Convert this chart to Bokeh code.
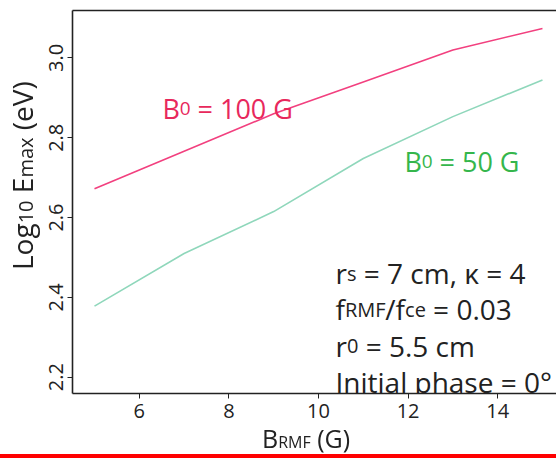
import math
from bokeh.plotting import figure
from bokeh.models import Label, Range1d, FixedTicker, LinearAxis, Div, PrintfTickFormatter
from bokeh.embed import file_html
from bokeh.resources import INLINE

# ---- data ----
b_rmf = [5, 7, 9, 11, 13, 15]
log_emax_100G = [2.672, 2.766, 2.860, 2.940, 3.020, 3.074]
log_emax_50G = [2.378, 2.510, 2.615, 2.748, 2.853, 2.945]
x_ticks = [6, 8, 10, 12, 14]
y_ticks = [2.2, 2.4, 2.6, 2.8, 3.0]

FONT = "Open Sans"
RED_LINE = "#f2407f"
RED_TEXT = "#e8285c"
GRN_LINE = "#8fd7bb"
GRN_TEXT = "#35b64c"
DARK = "#222222"

# approximate Open Sans advance widths (em)
W = {' ': .26, '(': .291, ')': .291, ',': .243, '.': .266, '/': .37, '=': .572, '°': .428,
     'B': .635, 'E': .547, 'F': .504, 'G': .695, 'I': .286, 'L': .518, 'M': .89, 'R': .619,
     'V': .591, 'a': .56, 'c': .476, 'e': .561, 'f': .339, 'g': .53, 'h': .613, 'i': .253,
     'l': .253, 'm': .93, 'n': .613, 'o': .604, 'p': .604, 'r': .408, 's': .477, 't': .353,
     'x': .522, 'v': .531, 'κ': .55}
for d in "0123456789":
    W[d] = .572


def tw(s, size):
    return sum(W.get(ch, .55) for ch in s) * size


p = figure(width=556, height=456, output_backend="svg", toolbar_location=None,
           x_range=Range1d(4.509, 15.313), y_range=Range1d(2.159, 3.119),
           min_border_left=72, min_border_right=0, min_border_top=10, min_border_bottom=63)
p.outline_line_color = None
p.grid.visible = False
p.background_fill_color = "white"
p.border_fill_color = "white"

p.line(b_rmf, log_emax_100G, line_color=RED_LINE, line_width=1.6)
p.line(b_rmf, log_emax_50G, line_color=GRN_LINE, line_width=1.6)

for ax in (p.xaxis[0], p.yaxis[0]):
    ax.axis_line_color = DARK
    ax.axis_line_width = 1.6
    ax.major_tick_line_color = DARK
    ax.major_tick_out = 5
    ax.major_tick_in = 0
    ax.minor_tick_line_color = None
    ax.major_label_text_font = FONT
    ax.major_label_text_font_size = "20px"
    ax.major_label_text_color = DARK
p.xaxis[0].ticker = FixedTicker(ticks=x_ticks)
p.yaxis[0].ticker = FixedTicker(ticks=y_ticks)
p.yaxis[0].formatter = PrintfTickFormatter(format="%.1f")
p.xaxis[0].major_label_standoff = 5
p.yaxis[0].major_label_standoff = 4
p.yaxis[0].major_label_orientation = "vertical"

top = LinearAxis(ticker=FixedTicker(ticks=[]), axis_line_color=DARK, axis_line_width=1.6,
                 major_tick_out=0, minor_tick_out=0, major_label_standoff=0,
                 major_label_text_font_size="0px")
p.add_layout(top, "above")

FL, FB = 72, 393  # page coords of frame left / bottom


def seq(pieces, px, py, color):
    """pieces: list of (text, size, gap_before_em)"""
    pos = 0.0
    for text, size, gap in pieces:
        pos += gap * size
        p.add_layout(Label(x=px - FL + pos, y=FB - py, x_units="screen", y_units="screen",
                           text=text, text_font=FONT, text_font_size=f"{size}px",
                           text_color=color, text_baseline="alphabetic", text_align="left"))
        pos += tw(text, size)


# series labels
seq([("B", 27, 0), ("0", 19, 0), ("= 100 G", 27, .26)], 162, 107.5, RED_TEXT)
seq([("B", 27, 0), ("0", 19, 0), ("= 50 G", 27, .26)], 404, 161, GRN_TEXT)

# parameter block
A, a = 28, 20
seq([("r", A, 0), ("s", a, 0), ("= 7 cm, κ = 4", A, .26)], 335, 272.5, DARK)
seq([("f", A, 0), ("RMF", a, 0), ("/f", A, 0), ("ce", a, 0), ("= 0.03", A, .26)], 335, 308.5, DARK)
seq([("r", A, 0), ("0", a, 0), ("= 5.5 cm", A, .26)], 335, 345.5, DARK)
seq([("Initial phase = 0°", A, 0)], 335, 381.5, DARK)

# axis titles (HTML, so sub-sized parts stay real text outside the plot frame)
xt_size, xt_sub = 25, 16
yt_size, yt_sub = 28, 20
asc = 0.888  # baseline offset (em) inside a line-height:1 box for Open Sans
x_title = ('<div style="position:fixed;left:262px;top:%.1fpx;font-family:\'Open Sans\';'
           'font-size:%dpx;line-height:1;color:%s;white-space:nowrap;">'
           'B<span style="font-size:%dpx;">RMF</span> (G)</div>'
           % (448 - asc * xt_size, xt_size, DARK, xt_sub))
y_title = ('<div style="position:fixed;left:%.1fpx;top:270px;font-family:\'Open Sans\';'
           'font-size:%dpx;line-height:1;color:%s;white-space:nowrap;'
           'transform-origin:0 0;transform:rotate(-90deg);">'
           'Log<span style="font-size:%dpx;">10</span> E<span style="font-size:%dpx;">max</span> (eV)</div>'
           % (33 - asc * yt_size, yt_size, DARK, yt_sub, yt_sub))
bar = ('<div style="position:fixed;left:0px;top:454px;width:556px;height:4px;'
       'background:#ff0000;"></div>')
extras = Div(text=x_title + y_title + bar, width=1, height=1, margin=(0, 0, 0, 0))

open("out.html", "w").write(file_html([p, extras], INLINE))
